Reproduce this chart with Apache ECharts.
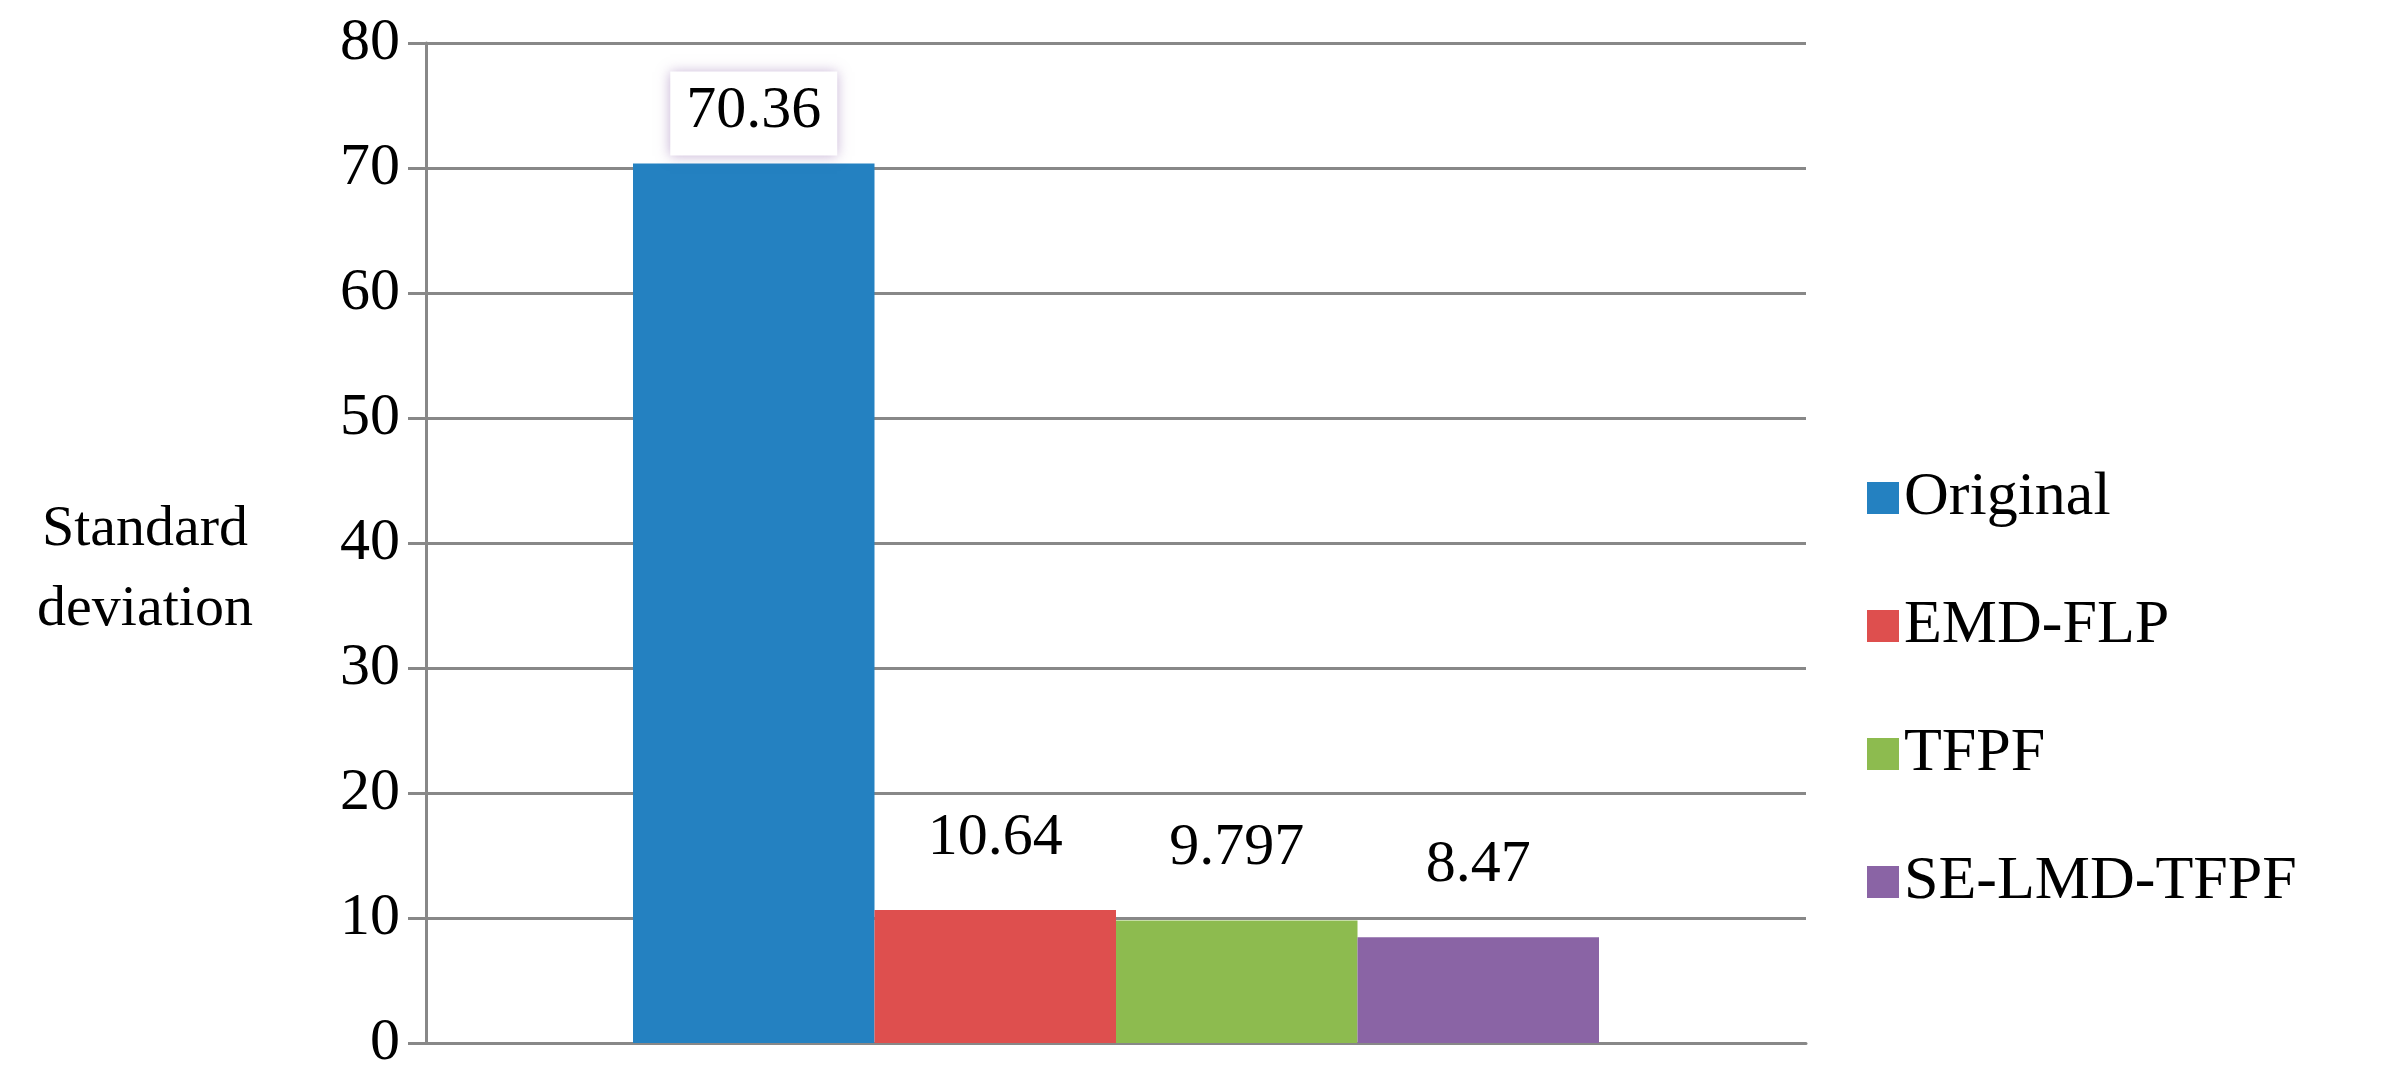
<!DOCTYPE html>
<html>
<head>
<meta charset="utf-8">
<script src="https://cdn.jsdelivr.net/npm/echarts@6/dist/echarts.min.js"></script>
<style>html,body{margin:0;padding:0;background:#fff}#c{width:2390px;height:1089px}</style>
</head>
<body>
<div id="c"></div>
<script>
var names = ['Original', 'EMD-FLP', 'TFPF', 'SE-LMD-TFPF'];
var values = [70.36, 10.64, 9.797, 8.47];
var colors = ['#2481c1', '#de4f4e', '#8dbb4f', '#8a64a5'];
var yTicks = [0, 10, 20, 30, 40, 50, 60, 70, 80];

var font = 'Liberation Serif';
var chart = echarts.init(document.getElementById('c'));
var series = names.map(function (n, i) {
  return {
    name: n,
    type: 'bar',
    data: [values[i]],
    barGap: 0,
    barCategoryGap: '30%',
    itemStyle: { color: colors[i] },
    label: {
      show: true,
      position: 'top',
      distance: i === 0 ? 8 : 42,
      formatter: String(values[i]),
      fontFamily: font,
      fontSize: 60,
      color: '#000',
      backgroundColor: i === 0 ? '#fff' : 'transparent',
      shadowColor: i === 0 ? 'rgba(140,100,170,0.5)' : 'transparent',
      shadowBlur: i === 0 ? 12 : 0,
      padding: i === 0 ? [10, 16, 14, 16] : 0
    }
  };
});
chart.setOption({
  color: colors,
  animation: false,
  grid: { left: 426, right: 584, top: 43, bottom: 46 },
  legend: {
    orient: 'vertical',
    left: 1862,
    top: 462,
    itemWidth: 32,
    itemHeight: 32,
    itemGap: 66,
    icon: 'rect',
    textStyle: { fontFamily: font, fontSize: 62, color: '#000' },
    data: names
  },
  xAxis: {
    type: 'category',
    data: [''],
    axisTick: { show: false },
    axisLabel: { show: false },
    axisLine: { lineStyle: { color: '#888', width: 3 } }
  },
  yAxis: {
    type: 'value',
    min: yTicks[0],
    max: yTicks[yTicks.length - 1],
    interval: 10,
    axisLine: { show: true, lineStyle: { color: '#888', width: 3 } },
    axisTick: { show: true, length: 18, lineStyle: { color: '#888', width: 3 } },
    axisLabel: { fontFamily: font, fontSize: 60, color: '#000', margin: 26 },
    splitLine: { lineStyle: { color: '#888', width: 3 } }
  },
  graphic: [{
    type: 'text',
    x: 145,
    y: 490,
    style: {
      text: 'Standard\ndeviation',
      fontFamily: font,
      fontSize: 58,
      lineHeight: 80,
      fill: '#000',
      align: 'center'
    }
  }],
  series: series
});
</script>
</body>
</html>
